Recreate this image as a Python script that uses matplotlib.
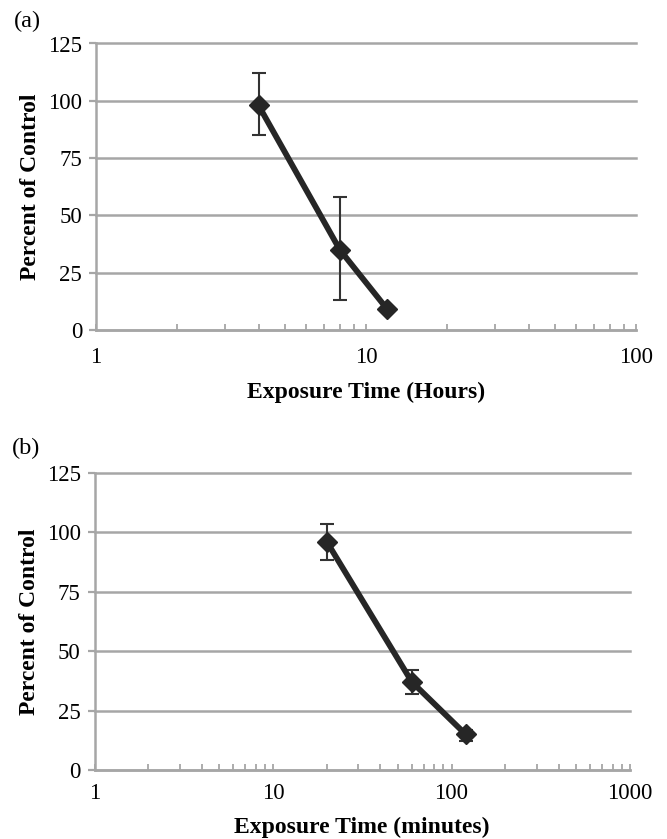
import matplotlib
matplotlib.use("Agg")
import matplotlib.pyplot as plt
from matplotlib.ticker import LogLocator, NullFormatter

# Panel (a)
a_time = [4, 8, 12]
a_pct = [98, 35, 9]
a_err_hi = [14, 23, 0]
a_err_lo = [13, 22, 0]

# Panel (b)
b_time = [20, 60, 120]
b_pct = [96, 37, 15]
b_err_hi = [7.5, 5, 2]
b_err_lo = [7.5, 5, 3]

yticks = [0, 25, 50, 75, 100, 125]
a_xticks = [1, 10, 100]
b_xticks = [1, 10, 100, 1000]

plt.rcParams['font.family'] = ['Liberation Serif', 'DejaVu Serif']

W, H = 667, 839
fig = plt.figure(figsize=(W / 100, H / 100), dpi=100)

grid_c = '#a6a6a6'
line_c = '#262626'


def panel(rect, t, p, ehi, elo, xt, xlabel, tag, tagpos, xpad, xlabpad):
    ax = fig.add_axes(rect)
    ax.set_xscale('log')
    ax.set_xlim(xt[0], xt[-1])
    ax.set_ylim(0, 125)
    ax.set_yticks(yticks)
    ax.set_xticks(xt)
    ax.set_xticklabels([str(v) for v in xt])
    ax.xaxis.set_minor_locator(LogLocator(base=10, subs=range(2, 10)))
    ax.xaxis.set_minor_formatter(NullFormatter())
    ax.grid(axis='y', color=grid_c, lw=1.8)
    for gl in ax.get_ygridlines():
        gl.set_clip_on(False)
    ax.set_axisbelow(True)
    for s in ['top', 'right']:
        ax.spines[s].set_visible(False)
    for s in ['left', 'bottom']:
        ax.spines[s].set_color(grid_c)
        ax.spines[s].set_linewidth(1.8)
    ax.tick_params(axis='y', which='major', direction='out', length=5, width=1.6,
                   color=grid_c, labelsize=16.5, pad=5)
    ax.tick_params(axis='x', which='major', direction='in', length=4, width=1.3,
                   color=grid_c, labelsize=16.5, pad=xpad)
    ax.tick_params(axis='x', which='minor', direction='in', length=4, width=1.3,
                   color=grid_c)
    ax.errorbar(t, p, yerr=[elo, ehi], fmt='none', ecolor='#333333', elinewidth=1.5,
                capsize=5, capthick=1.5, zorder=3)
    ax.plot(t, p, color=line_c, lw=4.2, marker='D', ms=10, mfc=line_c, mec=line_c,
            zorder=4)
    ax.set_xlabel(xlabel, fontsize=17, fontweight='bold', labelpad=xlabpad)
    ax.set_ylabel('Percent of Control', fontsize=17, fontweight='bold', labelpad=5)
    fig.text(tagpos[0] / W, 1 - tagpos[1] / H, tag, fontsize=17.5, ha='left', va='center')
    return ax


# axes rects in pixel coords: left, top, right, bottom
def rect(l, t, r, b):
    return [l / W, 1 - b / H, (r - l) / W, (b - t) / H]


panel(rect(96, 43.5, 636, 330), a_time, a_pct, a_err_hi, a_err_lo, a_xticks,
      'Exposure Time (Hours)', '(a)', (14, 21), 12, 10)
panel(rect(94.5, 472.7, 630, 770), b_time, b_pct, b_err_hi, b_err_lo, b_xticks,
      'Exposure Time (minutes)', '(b)', (12, 448), 9.5, 9)

fig.savefig('out.png', dpi=100)
